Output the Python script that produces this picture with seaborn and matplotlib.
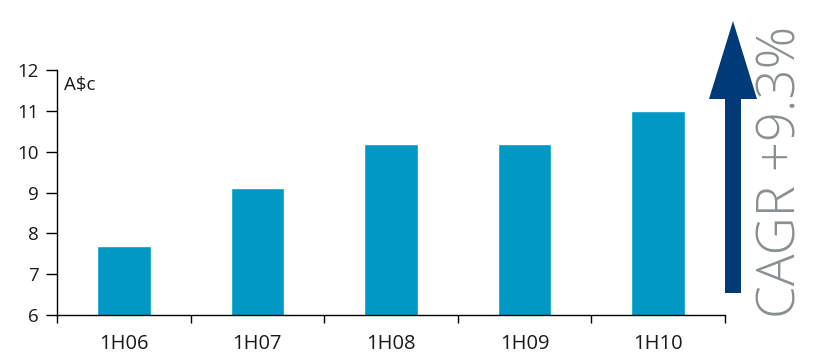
import matplotlib
matplotlib.use("Agg")
import matplotlib.pyplot as plt
import seaborn as sns
import pandas as pd
from matplotlib.patches import Polygon

# Half-year dividend per share (A$ cents)
periods = ["1H06", "1H07", "1H08", "1H09", "1H10"]
dividends = [7.7, 9.1, 10.2, 10.2, 11.0]
y_ticks = [6, 7, 8, 9, 10, 11, 12]
unit_label = "A$c"
growth_label = "CAGR +9.3%"

bar_color = "#0099C6"
arrow_color = "#003A78"
growth_color = "#8A8F91"
text_color = "#1a1a1a"

sns.set_theme(style="white")
plt.rcParams["font.family"] = ["Open Sans", "DejaVu Sans"]

W, H = 814, 355
fig = plt.figure(figsize=(W / 100, H / 100), dpi=100)
ax = fig.add_axes([57 / W, 1 - 315 / H, (725 - 57) / W, (315 - 70) / H])

df = pd.DataFrame({"period": periods, "dividend": dividends})
sns.barplot(data=df, x="period", y="dividend", color=bar_color,
            width=0.4, saturation=1, ax=ax)

ax.set_ylim(6, 12)
ax.set_xlim(-0.5, len(periods) - 0.5)
ax.set_yticks(y_ticks)
ax.set_yticklabels([str(t) for t in y_ticks], fontsize=13.5, color=text_color)

# boundary ticks between categories, labels centred on bars
ax.set_xticks([i - 0.5 for i in range(len(periods) + 1)])
ax.set_xticklabels([""] * (len(periods) + 1))
ax.set_xticks(range(len(periods)), minor=True)
ax.set_xticklabels(periods, minor=True, fontsize=14.5, color=text_color)
ax.tick_params(axis="x", which="major", length=6, width=1, color="black",
               direction="out", bottom=True)
ax.tick_params(axis="x", which="minor", length=0, pad=14)
ax.tick_params(axis="y", length=8, width=1, color="black", direction="out",
               left=True, pad=5)

ax.set_xlabel("")
ax.set_ylabel("")
for side in ["top", "right"]:
    ax.spines[side].set_visible(False)
for side in ["left", "bottom"]:
    ax.spines[side].set_color("black")
    ax.spines[side].set_linewidth(1)

ax.text(0.01, 0.975, unit_label, transform=ax.transAxes, fontsize=13.5,
        ha="left", va="top", color=text_color)

# growth arrow and annotation in figure pixel space
ov = fig.add_axes([0, 0, 1, 1], facecolor="none")
ov.set_xlim(0, W)
ov.set_ylim(H, 0)
ov.axis("off")
arrow = Polygon([(725, 293), (725, 99), (709, 99), (733, 21), (757, 99),
                 (741, 99), (741, 293)], closed=True, facecolor=arrow_color,
                edgecolor="none")
ov.add_patch(arrow)
ov.text(782, 172, growth_label, rotation=90, ha="center", va="center",
        fontsize=38, fontweight="light", color=growth_color)

fig.savefig("out.png", dpi=100)
